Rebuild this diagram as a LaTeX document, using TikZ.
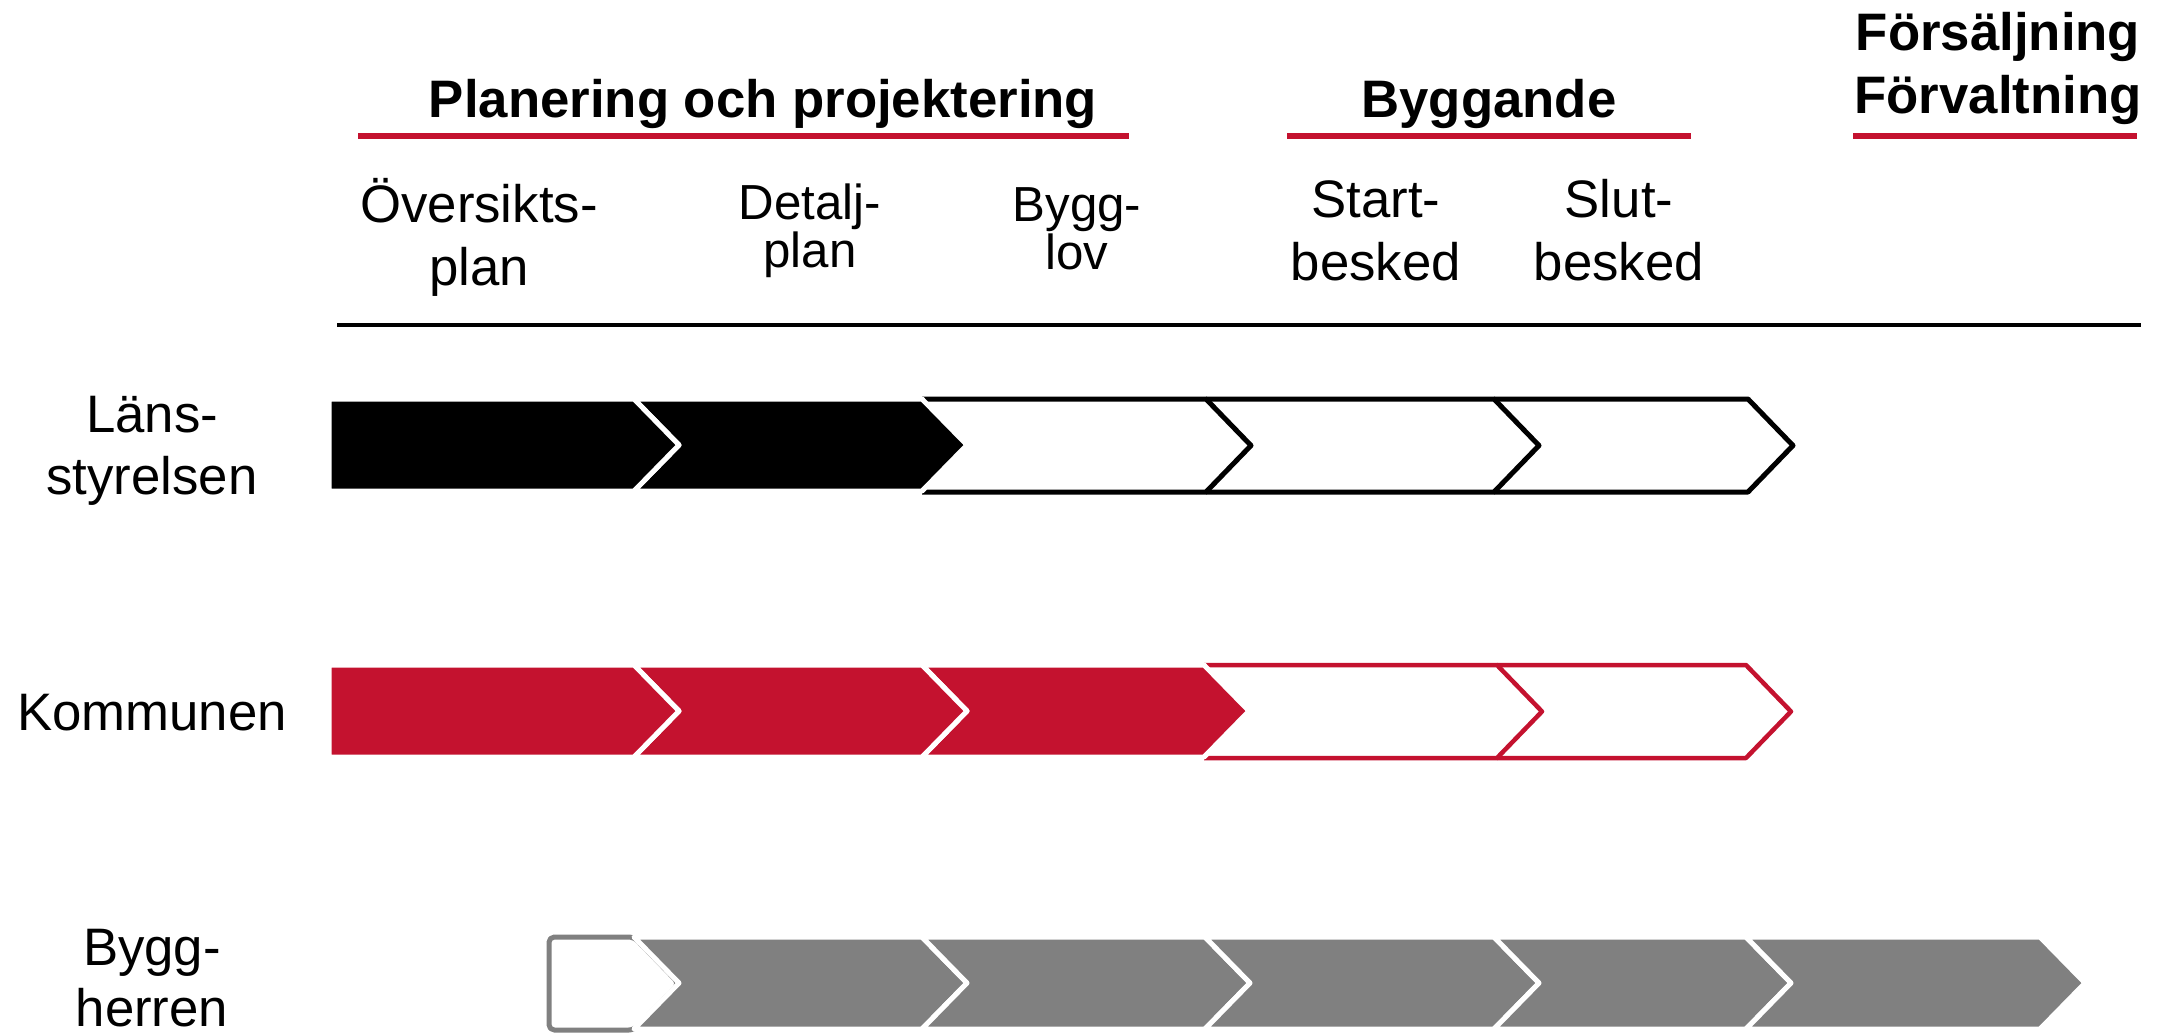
\documentclass[tikz,border=0pt]{standalone}
\usepackage{fontspec}
\setmainfont{Liberation Sans}
\definecolor{kred}{HTML}{C4122F}
\definecolor{kgray}{HTML}{808080}
\newcommand{\dep}{45}
% notched filled chevron: style, x0, x1, top, bottom
\newcommand{\nchev}[5]{\draw[#1] (#2,#4) -- (#3,#4) -- ({#3+\dep},{(#4+#5)/2}) -- (#3,#5) -- (#2,#5) -- ({#2+\dep},{(#4+#5)/2}) -- cycle;}
% notched outlined chevron: the notch itself is not stroked
\newcommand{\ochev}[5]{\fill[white] (#2,#4) -- (#3,#4) -- ({#3+\dep},{(#4+#5)/2}) -- (#3,#5) -- (#2,#5) -- ({#2+\dep},{(#4+#5)/2}) -- cycle;
  \draw[#1] (#2,#4) -- (#3,#4) -- ({#3+\dep},{(#4+#5)/2}) -- (#3,#5) -- (#2,#5);}
% flat-left chevron
\newcommand{\fchev}[5]{\draw[#1] (#2,#4) -- (#3,#4) -- ({#3+\dep},{(#4+#5)/2}) -- (#3,#5) -- (#2,#5) -- cycle;}
\begin{document}
\begin{tikzpicture}[x=0.01cm,y=-0.01cm,
  lbl/.style={inner sep=0pt,anchor=base,font=\fontsize{15}{18}\selectfont},
  lbls/.style={inner sep=0pt,anchor=base,font=\fontsize{14}{17}\selectfont},
  hdr/.style={inner sep=0pt,anchor=base,font=\fontsize{15}{18}\selectfont\bfseries},
  redrule/.style={draw=kred,line width=0.06cm},
  blackrule/.style={draw=black,line width=0.045cm},
  filledblack/.style={fill=black,draw=white,line width=0.05cm,line join=round},
  filledred/.style={fill=kred,draw=white,line width=0.05cm,line join=round},
  filledgray/.style={fill=kgray,draw=white,line width=0.05cm,line join=round},
  outblack/.style={draw=black,line width=0.05cm,line join=round},
  outred/.style={draw=kred,line width=0.045cm,line join=round},
  outgray/.style={fill=white,draw=kgray,line width=0.05cm,line join=round,rounded corners=1.5pt}]
\useasboundingbox (0,0) rectangle (2159,1035);

% headers
\node[hdr] (plan) at (763,117) {Planering och projektering};
\node[hdr] (bygg) at (1489,117) {Byggande};
\node[hdr] (fors) at (1998,50) {Försäljning};
\node[hdr] (forv) at (1998,113) {Förvaltning};

\coordinate (r1a) at (358,136); \coordinate (r1b) at (1129,136);
\coordinate (r2a) at (1287,136); \coordinate (r2b) at (1691,136);
\coordinate (r3a) at (1853,136); \coordinate (r3b) at (2137,136);
\coordinate (bla) at (337,325); \coordinate (blb) at (2141,325);
\draw[redrule] (r1a) -- (r1b);
\draw[redrule] (r2a) -- (r2b);
\draw[redrule] (r3a) -- (r3b);
\draw[blackrule] (bla) -- (blb);

% step labels
\node[lbl] (ovs1) at (479,222) {Översikts-};
\node[lbl] (ovs2) at (479,285) {plan};
\node[lbls] (det1) at (810,219) {Detalj-};
\node[lbls] (det2) at (810,267) {plan};
\node[lbls] (bl1) at (1077,221) {Bygg-};
\node[lbls] (bl2) at (1077,269) {lov};
\node[lbl] (st1) at (1376,217) {Start-};
\node[lbl] (st2) at (1376,280) {besked};
\node[lbl] (sl1) at (1619,217) {Slut-};
\node[lbl] (sl2) at (1619,280) {besked};

% row labels
\node[lbl] (lan1) at (152,432) {Läns-};
\node[lbl] (lan2) at (152,494) {styrelsen};
\node[lbl] (kom) at (152,730) {Kommunen};
\node[lbl] (bh1) at (152,965) {Bygg-};
\node[lbl] (bh2) at (152,1026) {herren};

% row 1: Länsstyrelsen
\ochev{outblack}{1494}{1748}{399}{492}
\ochev{outblack}{1206}{1494}{399}{492}
\ochev{outblack}{922}{1206}{399}{492}
\nchev{filledblack}{634}{922}{399}{491}
\fchev{filledblack}{329}{634}{399}{491}

% row 2: Kommunen
\ochev{outred}{1497}{1746}{665}{758}
\ochev{outred}{1204}{1497}{665}{758}
\nchev{filledred}{922}{1204}{665}{757}
\nchev{filledred}{634}{922}{665}{757}
\fchev{filledred}{329}{634}{665}{757}

% row 3: Byggherren
\fchev{outgray}{549}{634}{937}{1030}
\nchev{filledgray}{634}{922}{937}{1029}
\nchev{filledgray}{922}{1205}{937}{1029}
\nchev{filledgray}{1205}{1494}{937}{1029}
\nchev{filledgray}{1494}{1746}{937}{1029}
\nchev{filledgray}{1746}{2040}{937}{1029}
\end{tikzpicture}
\end{document}
